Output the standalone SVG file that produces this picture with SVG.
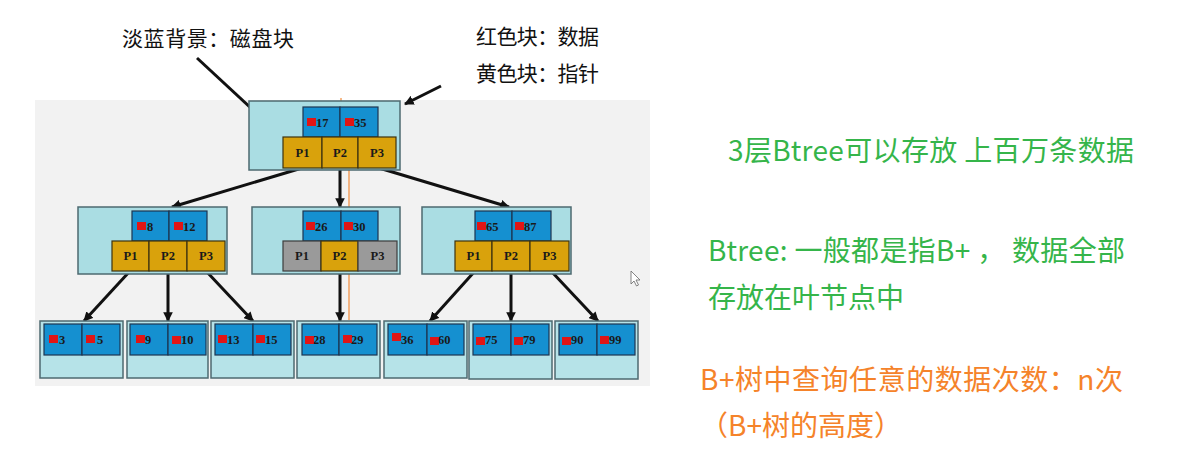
<svg xmlns="http://www.w3.org/2000/svg" width="1186" height="475" viewBox="0 0 1186 475">
<style>
.panel{fill:#f2f2f2}
.outer{fill:#aadde3;stroke:#4d6a70;stroke-width:1.5}
.leafout{fill:#b6e3e8;stroke:#4d6a70;stroke-width:1.5}
.key{fill:#1590d0;stroke:#1d3550;stroke-width:1.2}
.ptr{fill:#d9a20c;stroke:#3d3210;stroke-width:1.2}
.gray{fill:#9a9a9a;stroke:#3d3d3d;stroke-width:1.2}
.red{fill:#e01515}
.num{font-family:"Liberation Serif",serif;font-weight:bold;font-size:12.5px;fill:#1a1a1a}
.pl{font-family:"Liberation Serif",serif;font-weight:bold;font-size:12.5px;fill:#1a1a1a;text-anchor:middle}
.edge{stroke:#111;stroke-width:3;fill:none;marker-end:url(#ah)}
.orange{stroke:#f08a3a;stroke-width:1.2;fill:none}
.cjk{font-family:"Noto Sans CJK SC",sans-serif}
.note{font-size:21px;fill:#111}
.green{font-size:28px;fill:#35b54a}
.org{font-size:28px;fill:#f5832a}
</style>
<defs>
<marker id="ah" viewBox="0 0 10 10" refX="9" refY="5" markerWidth="3.2" markerHeight="3.2" orient="auto">
<path d="M0,0 L10,5 L0,10 z" fill="#111"/>
</marker>
</defs>
<rect class="panel" x="35" y="100" width="615" height="286"/>

<g id="annotations">
<text class="cjk note" x="122" y="46" textLength="172" lengthAdjust="spacing">淡蓝背景：磁盘块</text>
<text class="cjk note" x="476" y="44" textLength="123" lengthAdjust="spacing">红色块：数据</text>
<text class="cjk note" x="476" y="81" textLength="123" lengthAdjust="spacing">黄色块：指针</text>
<line x1="197" y1="58" x2="266" y2="122" stroke="#111" stroke-width="3"/>
<line x1="441" y1="86" x2="405" y2="104" stroke="#111" stroke-width="3" marker-end="url(#ah)"/>
</g>

<g id="connectors">
<line class="edge" x1="302" y1="168" x2="172" y2="207"/>
<line class="edge" x1="340" y1="168" x2="340" y2="207"/>
<line class="edge" x1="379" y1="168" x2="509" y2="207"/>
<line class="edge" x1="130" y1="271" x2="84" y2="321"/>
<line class="edge" x1="168" y1="271" x2="168" y2="321"/>
<line class="edge" x1="206" y1="271" x2="253" y2="321"/>
<line class="edge" x1="340" y1="271" x2="340" y2="321"/>
<line class="edge" x1="475" y1="271" x2="430" y2="321"/>
<line class="edge" x1="511" y1="271" x2="511" y2="321"/>
<line class="edge" x1="551" y1="271" x2="598" y2="321"/>
<line class="orange" x1="349" y1="170" x2="349" y2="207"/>
<line class="orange" x1="349" y1="271" x2="349" y2="320"/>
<line class="orange" x1="341" y1="98" x2="341" y2="102"/>
</g>

<g id="root">
<rect class="outer" x="249" y="101" width="151" height="69"/>
<rect class="key" x="303" y="107" width="37" height="30"/>
<rect class="key" x="340" y="107" width="38" height="30"/>
<rect class="red" x="307" y="118" width="9" height="8"/><text class="num" x="316" y="127">17</text>
<rect class="red" x="345" y="118" width="9" height="8"/><text class="num" x="354" y="127">35</text>
<rect class="ptr" x="283" y="137" width="39" height="31"/>
<rect class="ptr" x="322" y="137" width="36" height="31"/>
<rect class="ptr" x="358" y="137" width="38" height="31"/>
<text class="pl" x="302.5" y="157">P1</text><text class="pl" x="340" y="157">P2</text><text class="pl" x="377" y="157">P3</text>
</g>

<g id="mid-left">
<rect class="outer" x="78" y="207" width="149" height="67"/>
<rect class="key" x="132" y="211" width="37" height="30"/>
<rect class="key" x="169" y="211" width="38" height="30"/>
<rect class="red" x="137" y="222" width="9" height="8"/><text class="num" x="147" y="231">8</text>
<rect class="red" x="174" y="222" width="9" height="8"/><text class="num" x="183" y="231">12</text>
<rect class="ptr" x="112" y="241" width="37" height="30"/>
<rect class="ptr" x="149" y="241" width="38" height="30"/>
<rect class="ptr" x="187" y="241" width="38" height="30"/>
<text class="pl" x="130.5" y="260">P1</text><text class="pl" x="168" y="260">P2</text><text class="pl" x="206" y="260">P3</text>
</g>

<g id="mid-center">
<rect class="outer" x="252" y="207" width="148" height="67"/>
<rect class="key" x="303" y="211" width="38" height="30"/>
<rect class="key" x="341" y="211" width="37" height="30"/>
<rect class="red" x="306" y="222" width="9" height="8"/><text class="num" x="315" y="231">26</text>
<rect class="red" x="344" y="222" width="9" height="8"/><text class="num" x="353" y="231">30</text>
<rect class="gray" x="283" y="241" width="38" height="30"/>
<rect class="ptr" x="321" y="241" width="37" height="30"/>
<rect class="gray" x="358" y="241" width="39" height="30"/>
<text class="pl" x="302" y="260">P1</text><text class="pl" x="339.5" y="260">P2</text><text class="pl" x="377.5" y="260">P3</text>
</g>

<g id="mid-right">
<rect class="outer" x="422" y="207" width="149" height="67"/>
<rect class="key" x="475" y="211" width="37" height="30"/>
<rect class="key" x="512" y="211" width="39" height="30"/>
<rect class="red" x="477" y="222" width="9" height="8"/><text class="num" x="486" y="231">65</text>
<rect class="red" x="515" y="222" width="9" height="8"/><text class="num" x="524" y="231">87</text>
<rect class="ptr" x="455" y="241" width="37" height="30"/>
<rect class="ptr" x="492" y="241" width="38" height="30"/>
<rect class="ptr" x="530" y="241" width="39" height="30"/>
<text class="pl" x="473.5" y="260">P1</text><text class="pl" x="511" y="260">P2</text><text class="pl" x="549.5" y="260">P3</text>
</g>

<g id="leaf-1">
<rect class="leafout" x="40" y="321" width="83" height="57"/>
<rect class="key" x="44" y="324" width="38" height="31"/><rect class="key" x="82" y="324" width="38" height="31"/>
<rect class="red" x="49" y="335" width="9" height="8"/><text class="num" x="59" y="344">3</text>
<rect class="red" x="86" y="335" width="9" height="8"/><text class="num" x="97" y="344">5</text>
</g>
<g id="leaf-2">
<rect class="leafout" x="127" y="321" width="81" height="57"/>
<rect class="key" x="130" y="324" width="38" height="31"/><rect class="key" x="168" y="324" width="38" height="31"/>
<rect class="red" x="136" y="335" width="9" height="8"/><text class="num" x="145" y="344">9</text>
<rect class="red" x="172" y="336" width="9" height="8"/><text class="num" x="181" y="344">10</text>
</g>
<g id="leaf-3">
<rect class="leafout" x="211" y="321" width="83" height="57"/>
<rect class="key" x="215" y="324" width="38" height="31"/><rect class="key" x="253" y="324" width="38" height="31"/>
<rect class="red" x="218" y="335" width="9" height="8"/><text class="num" x="227" y="344">13</text>
<rect class="red" x="256" y="335" width="9" height="8"/><text class="num" x="265" y="344">15</text>
</g>
<g id="leaf-4">
<rect class="leafout" x="297" y="321" width="83" height="57"/>
<rect class="key" x="302" y="324" width="37" height="31"/><rect class="key" x="339" y="324" width="38" height="31"/>
<rect class="red" x="305" y="336" width="9" height="8"/><text class="num" x="313" y="344">28</text>
<rect class="red" x="343" y="335" width="9" height="8"/><text class="num" x="351" y="344">29</text>
</g>
<g id="leaf-5">
<rect class="leafout" x="384" y="321" width="83" height="57"/>
<rect class="key" x="388" y="324" width="39" height="31"/><rect class="key" x="427" y="324" width="37" height="31"/>
<rect class="red" x="392" y="333" width="9" height="8"/><text class="num" x="401" y="344">36</text>
<rect class="red" x="430" y="337" width="9" height="8"/><text class="num" x="438" y="344">60</text>
</g>
<g id="leaf-6">
<rect class="leafout" x="469" y="321" width="83" height="58"/>
<rect class="key" x="473" y="324" width="38" height="31"/><rect class="key" x="511" y="324" width="38" height="31"/>
<rect class="red" x="476" y="337" width="9" height="8"/><text class="num" x="485" y="344">75</text>
<rect class="red" x="514" y="337" width="9" height="8"/><text class="num" x="523" y="344">79</text>
</g>
<g id="leaf-7">
<rect class="leafout" x="555" y="321" width="83" height="58"/>
<rect class="key" x="559" y="324" width="38" height="31"/><rect class="key" x="597" y="324" width="38" height="31"/>
<rect class="red" x="562" y="337" width="9" height="8"/><text class="num" x="571" y="344">90</text>
<rect class="red" x="600" y="336" width="9" height="8"/><text class="num" x="609" y="344">99</text>
</g>

<path d="M631,271 L631,284 L634,281 L636.5,286 L638.5,285 L636,280 L640,280 Z" fill="#fff" stroke="#666" stroke-width="0.8"/>

<g id="notes">
<text class="cjk green" x="728" y="161" textLength="406" lengthAdjust="spacing">3层Btree可以存放 上百万条数据</text>
<text class="cjk green" x="708" y="261" textLength="417" lengthAdjust="spacing">Btree: 一般都是指B+ ， 数据全部</text>
<text class="cjk green" x="708" y="308">存放在叶节点中</text>
<text class="cjk org" x="700" y="390" textLength="423" lengthAdjust="spacing">B+树中查询任意的数据次数：n次</text>
<text class="cjk org" x="700" y="436">（B+树的高度）</text>
</g>
</svg>
